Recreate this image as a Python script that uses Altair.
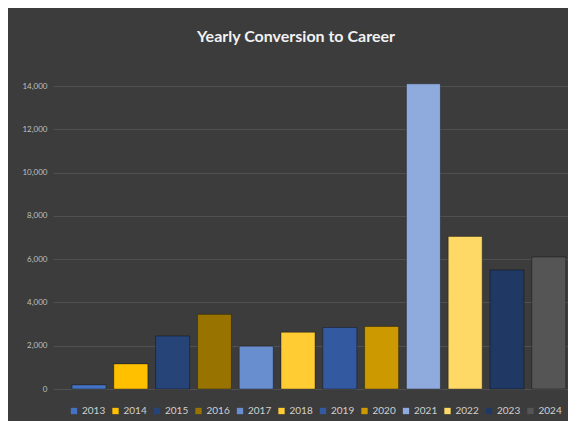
import altair as alt
import pandas as pd

years = ["2013", "2014", "2015", "2016", "2017", "2018",
         "2019", "2020", "2021", "2022", "2023", "2024"]
values = [190, 1160, 2450, 3450, 1980, 2620, 2840, 2890, 14100, 7050, 5500, 6100]
colors = ["#4472C4", "#FFC000", "#264478", "#997300", "#698ED0", "#FFCD33",
          "#335AA1", "#CC9A00", "#8FAADC", "#FFD966", "#203864", "#555555"]
y_ticks = [0, 2000, 4000, 6000, 8000, 10000, 12000, 14000]

df = pd.DataFrame({"year": years, "value": values})

chart = alt.Chart(df).mark_bar(
    stroke="#000000", strokeOpacity=0.35, strokeWidth=1
).encode(
    x=alt.X("year:N", sort=years,
            scale=alt.Scale(paddingInner=0.187, paddingOuter=0.254, align=0.896),
            axis=None),
    y=alt.Y("value:Q",
            scale=alt.Scale(domain=[0, 14000], nice=False),
            axis=alt.Axis(values=y_ticks, format=",.0f", title=None, domain=False,
                          ticks=False, labelPadding=6, labelFontSize=8,
                          labelColor="#BFBFBF", labelFont="Lato",
                          gridColor="#505050", gridWidth=1)),
    color=alt.Color("year:N", sort=years,
                    scale=alt.Scale(domain=years, range=colors),
                    legend=alt.Legend(orient="none", direction="horizontal",
                                      legendX=16, legendY=320, title=None,
                                      symbolType="square", symbolSize=40,
                                      symbolStrokeWidth=0,
                                      labelFont="Lato", labelFontSize=10,
                                      labelColor="#D0D0D0", labelOffset=3,
                                      columnPadding=4.5, columns=12)),
).properties(
    width=515, height=303,
    title=alt.TitleParams("Yearly Conversion to Career", font="Lato",
                          fontSize=16, fontWeight="bold", color="#F2F2F2",
                          anchor="middle", dx=-14.5, offset=37),
    background="#3C3C3C",
    padding={"left": 45, "top": 78, "right": 0, "bottom": 32},
    autosize=alt.AutoSizeParams(type="none"),
).configure_view(stroke=None)

chart.save("out.html", embed_options={"renderer": "svg", "actions": False})
